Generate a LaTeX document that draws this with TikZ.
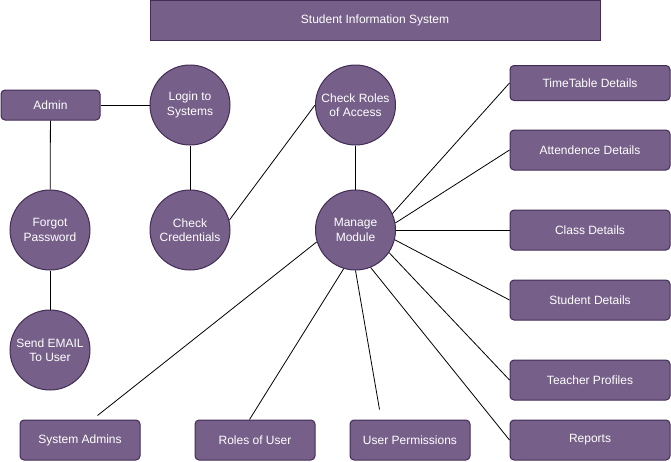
\documentclass[tikz,border=0pt]{standalone}
\usepackage{fontspec}
\setmainfont{Liberation Sans}
\definecolor{boxfill}{HTML}{76608A}
\definecolor{boxline}{HTML}{432D57}
\begin{document}
\begin{tikzpicture}[x=1pt,y=-1pt,
  base/.style={fill=boxfill,draw=boxline,line width=1pt,text=white,
    font=\fontsize{12}{14.5}\selectfont,align=center,inner sep=0pt},
  titlebox/.style={base,rectangle,minimum width=450pt,minimum height=40pt},
  rbox/.style={base,rectangle,rounded corners=4pt,minimum width=#1,minimum height=40pt},
  sbox/.style={base,rectangle,rounded corners=4pt,minimum width=#1,minimum height=30pt},
  tbox/.style={base,rectangle,rounded corners=4pt,minimum width=#1,minimum height=35pt},
  usecase/.style={base,circle,minimum size=80pt},
  link/.style={draw=black,line width=0.8pt}
]
\useasboundingbox (0,0) rectangle (671,461);

% header
\node[titlebox] (title) at (375,20) {Student Information System};

% left column: actor and login flow
\node[sbox=99pt]   (admin)  at (50.5,105) {Admin};
\node[usecase]     (login)  at (190,105) {Login to\\Systems};
\node[usecase]     (forgot) at (50,230)  {Forgot\\Password};
\node[usecase]     (email)  at (50,350)  {Send EMAIL\\To User};
\node[usecase]     (cred)   at (190,230) {Check\\Credentials};
\node[usecase]     (roles)  at (355.5,105) {Check Roles\\of Access};
\node[usecase]     (mm)     at (355.5,230) {Manage\\Module};

% right column: module features
\node[tbox=160pt] (tt)  at (590,83)  {TimeTable Details};
\node[rbox=160pt] (att) at (590,150) {Attendence Details};
\node[rbox=160pt] (cls) at (590,230) {Class Details};
\node[rbox=160pt] (stu) at (590,300) {Student Details};
\node[rbox=160pt] (tea) at (590,380) {Teacher Profiles};
\node[rbox=160pt] (rep) at (590,440) {Reports};

% bottom row
\node[rbox=120pt] (sa)  at (80,440)  {System Admins};
\node[rbox=120pt] (rou) at (255,440) {Roles of User};
\node[rbox=120pt] (up)  at (410,440) {User Permissions};

% loose connector ends above the bottom boxes
\coordinate (saEnd) at ([xshift=78pt,yshift=4pt]sa.north west);
\coordinate (upEnd) at ([xshift=30pt,yshift=10pt]up.north west);
\coordinate (rouEnd) at ([xshift=55pt]rou.north west);

% connectors
\draw[link] (admin) -- (login);
\draw[link] (admin) -- (forgot);
\draw[link] (forgot) -- (email);
\draw[link] (login) -- (cred);
\draw[link] (cred.14) -- (roles.west);
\draw[link] (roles) -- (mm);

\draw[link] (mm.24)  -- (tt.west);
\draw[link] (mm.10)  -- (att.west);
\draw[link] (mm.0)   -- (cls.west);
\draw[link] (mm.-14) -- (stu.west);
\draw[link] (mm.-34) -- (tea.west);
\draw[link] (mm.-68) -- (rep.west);
\draw[link] (mm.-90) -- (upEnd);
\draw[link] (mm.-107) -- (rouEnd);
\draw[link] (mm.-163) -- (saEnd);
\end{tikzpicture}
\end{document}
